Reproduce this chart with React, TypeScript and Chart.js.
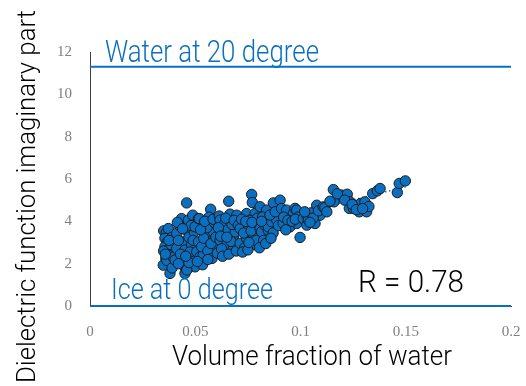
import { useEffect, useRef } from 'react';
import { Chart, registerables } from 'chart.js';

Chart.register(...registerables);

// Volume fraction of water (x) and dielectric imaginary part (y)
const waterFraction: number[] = [
  0.0350, 0.0362, 0.0372, 0.0356, 0.0366, 0.0356, 0.0380, 0.0372, 0.0350, 0.0360,
  0.0372, 0.0348, 0.0380, 0.0365, 0.0385, 0.0390, 0.0395, 0.0390, 0.0358, 0.0375,
  0.0412, 0.0435, 0.0459, 0.0467, 0.0459, 0.0443, 0.0412, 0.0451, 0.0404, 0.0443,
  0.0483, 0.0443, 0.0451, 0.0499, 0.0483, 0.0460, 0.0425, 0.0420, 0.0430, 0.0470,
  0.0475, 0.0488, 0.0495, 0.0420, 0.0470, 0.0415, 0.0480, 0.0455, 0.0440, 0.0490,
  0.0507, 0.0515, 0.0499, 0.0515, 0.0519, 0.0523, 0.0538, 0.0546, 0.0554, 0.0570,
  0.0573, 0.0586, 0.0594, 0.0530, 0.0540, 0.0560, 0.0580, 0.0555, 0.0590, 0.0525,
  0.0565, 0.0575, 0.0598, 0.0535, 0.0510, 0.0545, 0.0585, 0.0560,
  0.0614, 0.0618, 0.0618, 0.0633, 0.0649, 0.0659, 0.0665, 0.0681, 0.0697, 0.0697,
  0.0681, 0.0605, 0.0625, 0.0640, 0.0655, 0.0670, 0.0690, 0.0610, 0.0630, 0.0660,
  0.0675, 0.0645, 0.0685, 0.0620, 0.0695, 0.0650,
  0.0705, 0.0713, 0.0713, 0.0744, 0.0744, 0.0752, 0.0768, 0.0771, 0.0776, 0.0784,
  0.0792, 0.0720, 0.0730, 0.0735, 0.0760, 0.0765, 0.0780, 0.0795, 0.0725, 0.0750,
  0.0790, 0.0740, 0.0770, 0.0755,
  0.0808, 0.0808, 0.0815, 0.0831, 0.0839, 0.0847, 0.0847, 0.0863, 0.0871, 0.0887,
  0.0820, 0.0825, 0.0855, 0.0870, 0.0880, 0.0805, 0.0835, 0.0860, 0.0895, 0.0815,
  0.0903, 0.0910, 0.0918, 0.0934, 0.0950, 0.0966, 0.0974, 0.0982, 0.0982, 0.0998,
  0.0920, 0.0940, 0.0960, 0.0990, 0.0930, 0.0975,
  0.1013, 0.1030, 0.1030, 0.1037, 0.1069, 0.1077, 0.1093, 0.1050, 0.1060, 0.1085,
  0.1020, 0.1045,
  0.1108, 0.1116, 0.1156, 0.1159, 0.1196, 0.1222, 0.1235, 0.1232, 0.1251, 0.1259,
  0.1279, 0.1286, 0.1140, 0.1175, 0.1210, 0.1245, 0.1265, 0.1125,
  0.1306, 0.1314, 0.1343, 0.1365, 0.1378, 0.1460, 0.1469, 0.1498, 0.1325, 0.1295,
];

const imaginaryPart: number[] = [
  3.55, 3.45, 3.66, 3.20, 3.00, 2.80, 2.56, 2.41, 2.60, 2.25,
  2.01, 1.93, 1.54, 2.15, 2.90, 3.25, 2.30, 1.80, 2.45, 3.10,
  3.43, 4.13, 4.87, 4.06, 3.58, 3.03, 2.72, 2.64, 2.17, 2.17,
  2.25, 1.93, 1.54, 1.85, 2.88, 1.70, 3.80, 3.10, 2.45, 3.25,
  2.55, 4.29, 3.50, 2.00, 2.05, 3.95, 3.80, 2.35, 3.65, 3.10,
  2.56, 3.03, 3.74, 4.13, 4.13, 2.33, 2.41, 3.43, 3.90, 3.03,
  4.57, 3.51, 2.72, 2.80, 3.20, 2.60, 2.25, 3.70, 3.95, 3.60,
  4.20, 2.95, 3.25, 1.95, 2.10, 4.00, 4.10, 2.20,
  4.25, 4.06, 3.11, 3.51, 2.88, 4.95, 4.34, 3.27, 2.88, 4.29,
  2.72, 2.50, 2.70, 3.90, 3.60, 3.05, 3.50, 3.70, 2.35, 2.45,
  3.85, 4.15, 4.05, 3.30, 2.60, 3.25,
  3.82, 3.66, 2.96, 4.37, 3.19, 3.82, 5.27, 4.89, 3.35, 4.37,
  3.74, 4.10, 3.45, 2.75, 4.05, 3.55, 2.90, 4.15, 2.55, 2.65,
  3.10, 4.00, 3.95, 3.00,
  4.69, 3.66, 3.51, 3.82, 4.53, 3.58, 3.74, 3.98, 4.87, 4.06,
  4.20, 3.10, 4.30, 3.45, 4.45, 2.75, 2.95, 3.20, 3.80, 4.00,
  5.00, 4.61, 3.90, 4.53, 3.74, 4.37, 4.61, 3.90, 4.53, 3.24,
  4.20, 4.05, 4.00, 4.20, 3.60, 4.10,
  4.13, 4.29, 3.82, 4.06, 3.90, 4.76, 4.29, 4.40, 4.15, 4.50,
  4.45, 3.95,
  4.68, 4.65, 5.50, 4.92, 5.24, 5.28, 4.92, 4.61, 4.61, 4.76,
  4.45, 4.84, 4.95, 5.30, 5.00, 4.80, 4.55, 4.45,
  4.92, 4.45, 5.31, 5.44, 5.55, 5.36, 5.79, 5.91, 4.70, 4.60,
];

// Linear trend line end points
const trendX: number[] = [0.035, 0.15];
const trendY: number[] = [2.81, 5.63];

// Reference lines
const refLineX: number[] = [0, 0.2];
const waterLevel = 11.3;
const iceLevel = 0;

const xTickValues: number[] = [0, 0.05, 0.1, 0.15, 0.2];
const xTickLabels: string[] = ['0', '0.05', '0.1', '0.15', '0.2'];

const labelWater = 'Water at 20 degree';
const labelIce = 'Ice at 0 degree';
const labelR = 'R = 0.78';
const titleX = 'Volume fraction of water';
const titleY = 'Dielectric function imaginary part';

const BLUE = '#0a6fc0';

function drawFitted(
  ctx: CanvasRenderingContext2D,
  text: string,
  x: number,
  y: number,
  size: number,
  width: number,
  color: string,
  rotate = false
) {
  ctx.save();
  ctx.font = `300 ${size}px Roboto, "Liberation Sans", sans-serif`;
  const w = ctx.measureText(text).width;
  ctx.translate(x, y);
  if (rotate) ctx.rotate(-Math.PI / 2);
  ctx.scale(width / w, 1);
  ctx.fillStyle = color;
  ctx.textAlign = 'left';
  ctx.textBaseline = 'alphabetic';
  ctx.fillText(text, 0, 0);
  ctx.restore();
}

const textPlugin = {
  id: 'textPlugin',
  afterDraw(chart: Chart) {
    const ctx = chart.ctx;
    drawFitted(ctx, labelWater, 105, 62, 31, 214, BLUE);
    drawFitted(ctx, labelIce, 111, 299, 30, 162, BLUE);
    drawFitted(ctx, labelR, 358, 292, 32, 106, '#000000');
    drawFitted(ctx, titleX, 172, 365, 28, 280, '#000000');
    drawFitted(ctx, titleY, 35, 383, 25, 373, '#000000', true);
  },
};

export default function App() {
  const canvasRef = useRef<HTMLCanvasElement | null>(null);

  useEffect(() => {
    if (!canvasRef.current) return;
    const points = waterFraction.map((x, i) => ({ x, y: imaginaryPart[i] }));
    const trend = trendX.map((x, i) => ({ x, y: trendY[i] }));
    const water = refLineX.map((x) => ({ x, y: waterLevel }));
    const ice = refLineX.map((x) => ({ x, y: iceLevel }));

    const chart = new Chart(canvasRef.current, {
      type: 'scatter',
      data: {
        datasets: [
          {
            data: points,
            backgroundColor: BLUE,
            borderColor: '#1b1b1b',
            borderWidth: 1,
            pointRadius: 5.2,
            clip: false as any,
          },
          {
            data: trend,
            showLine: true,
            pointRadius: 0,
            borderColor: BLUE,
            borderWidth: 1.5,
            borderDash: [1.5, 2.5],
          },
          {
            data: water,
            showLine: true,
            pointRadius: 0,
            borderColor: BLUE,
            borderWidth: 2,
            clip: false as any,
          },
          {
            data: ice,
            showLine: true,
            pointRadius: 0,
            borderColor: BLUE,
            borderWidth: 2,
            clip: false as any,
          },
        ],
      },
      options: {
        responsive: false,
        animation: false,
        devicePixelRatio: 1,
        layout: { padding: { left: 0, top: 52, right: 15, bottom: 0 } },
        plugins: {
          legend: { display: false },
          tooltip: { enabled: false },
        },
        scales: {
          x: {
            type: 'linear',
            min: 0,
            max: 0.2,
            afterFit: (s: any) => {
              s.height = 80;
              s.paddingLeft = 0;
              s.paddingRight = 0;
            },
            afterBuildTicks: (s: any) => {
              s.ticks = xTickValues.map((v) => ({ value: v }));
            },
            ticks: {
              padding: 17,
              color: '#7f7f7f',
              font: { family: '"Liberation Serif", serif', size: 15 },
              callback: (v: any) => {
                const i = xTickValues.findIndex((t) => Math.abs(t - Number(v)) < 1e-9);
                return i >= 0 ? xTickLabels[i] : '';
              },
            },
            grid: { display: false, drawTicks: false },
            border: { display: true, color: '#404040', width: 1 },
          },
          y: {
            type: 'linear',
            min: 0,
            max: 12,
            afterFit: (s: any) => {
              s.width = 90;
              s.paddingTop = 0;
              s.paddingBottom = 0;
            },
            ticks: {
              stepSize: 2,
              padding: 18,
              color: '#7f7f7f',
              font: { family: '"Liberation Serif", serif', size: 15 },
            },
            grid: { display: false, drawTicks: false },
            border: { display: true, color: '#404040', width: 1 },
          },
        },
      },
      plugins: [textPlugin],
    });
    return () => chart.destroy();
  }, []);

  return (
    <div style={{ position: 'fixed', left: 0, top: 0, width: 526, height: 386, background: '#fff' }}>
      <canvas ref={canvasRef} width={526} height={386} style={{ display: 'block' }} />
    </div>
  );
}
